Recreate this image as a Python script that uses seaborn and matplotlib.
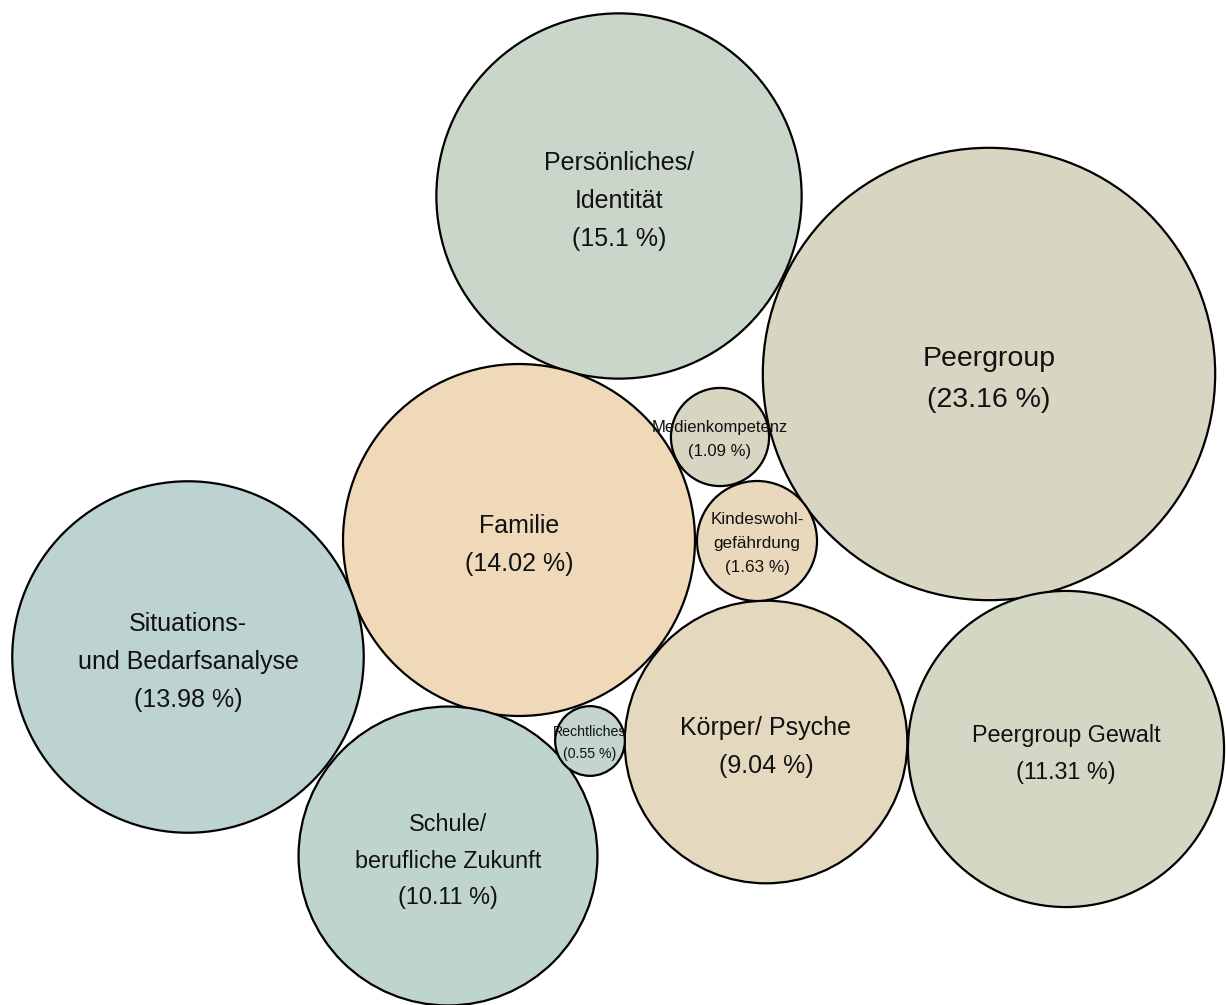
import numpy as np
import seaborn as sns
import matplotlib.pyplot as plt
from matplotlib.patches import Circle

# data
labels = ["Persönliches/\nIdentität", "Peergroup", "Familie", "Situations-\nund Bedarfsanalyse",
          "Schule/\nberufliche Zukunft", "Körper/ Psyche", "Peergroup Gewalt",
          "Medienkompetenz", "Kindeswohl-\ngefährdung", "Rechtliches"]
percent = [15.1, 23.16, 14.02, 13.98, 10.11, 9.04, 11.31, 1.09, 1.63, 0.55]

# layout of the packed bubbles (pixel space)
center_x = [619, 989, 519, 188, 448, 766, 1066, 720, 757, 590]
center_y = [196, 374, 540, 657, 856, 742, 749, 437, 541, 741]

colors = ["#cbd6ca", "#d8d6c2", "#efd9b8", "#bcd3d1", "#c0d4cf",
          "#e4d9bf", "#d3d8c5", "#d8d6c2", "#e9d8bb", "#c4d4cf"]
font_sizes = [18, 20.5, 18, 18, 16.8, 18, 16.8, 12, 12.3, 10.2]

sns.set_theme(style="white")
plt.rcParams['font.family'] = ['Liberation Sans', 'DejaVu Sans']

fig = plt.figure(figsize=(12.26, 10.05), dpi=100)
ax = fig.add_axes([0, 0, 1, 1])

k = 47.0  # area proportional scale
for i in range(len(labels)):
    r = k * np.sqrt(percent[i])
    ax.add_patch(Circle((center_x[i], center_y[i]), r, facecolor=colors[i],
                        edgecolor="black", linewidth=1.6, zorder=2))
    # big labels sit a bit below the center in the original
    dy = 5 if r > 100 else 2
    ax.text(center_x[i], center_y[i] + dy, f"{labels[i]}\n({percent[i]} %)",
            ha="center", va="center", multialignment="center",
            fontsize=font_sizes[i], color="#111111", linespacing=1.75, zorder=3)

ax.set_xlim(0, 1226)
ax.set_ylim(1005, 0)
ax.set_aspect("equal")
ax.axis("off")

fig.savefig("out.png", dpi=100, facecolor="white")
